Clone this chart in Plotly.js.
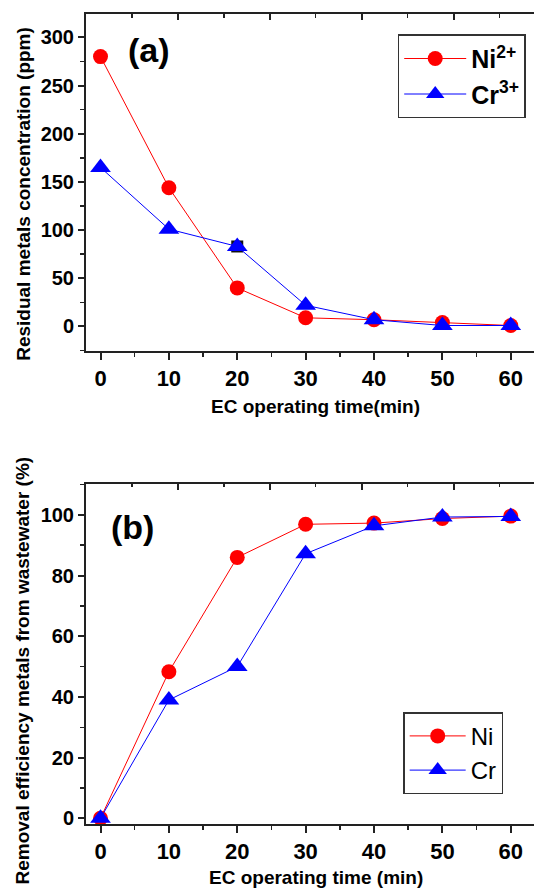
<!DOCTYPE html>
<html>
<head>
<meta charset="utf-8">
<script src="https://cdn.plot.ly/plotly-3.0.1.min.js"></script>
<style>html,body{margin:0;padding:0;background:#fff;}#chart{width:534px;height:890px;}</style>
</head>
<body>
<div id="chart"></div>
<script>
// ---- data ----
const timeMin = [0, 10, 20, 30, 40, 50, 60];
// (a) residual concentration (ppm)
const niConc = [280, 144, 40, 9, 7, 4, 1];
const crConc = [165, 101, 83, 22, 7, 1, 1];
// stray black square marker visible under the Cr point at 20 min
const squareTime = [20];
const squareConc = [83];
// (b) removal efficiency (%)
const niRemoval = [0, 48.3, 86, 96.9, 97.3, 98.8, 99.6];
const crRemoval = [0, 39, 50, 87.2, 96.4, 99.3, 99.5];
const xTickVals = [0, 10, 20, 30, 40, 50, 60];

const FONT = "'Liberation Sans', Arial, Helvetica, sans-serif";
const AX = '#222';
const RED = '#ff0000';
const BLUE = '#0000ff';

const traces = [
  {x: timeMin, y: niConc, xaxis: 'x', yaxis: 'y', mode: 'lines+markers', name: 'Ni<sup>2+</sup>',
   legend: 'legend', legendgroup: 'a1',
   line: {color: RED, width: 1}, marker: {symbol: 'circle', size: 15, color: RED}},
  {x: squareTime, y: squareConc, xaxis: 'x', yaxis: 'y', mode: 'markers', showlegend: false,
   marker: {symbol: 'square', size: 12, color: '#111'}},
  {x: timeMin, y: crConc, xaxis: 'x', yaxis: 'y', mode: 'lines+markers', name: 'Cr<sup>3+</sup>',
   legend: 'legend', legendgroup: 'a2',
   line: {color: BLUE, width: 1}, marker: {symbol: 'triangle-up', size: 18, color: BLUE}},
  {x: timeMin, y: niRemoval, xaxis: 'x2', yaxis: 'y2', mode: 'lines+markers', name: 'Ni',
   legend: 'legend2', legendgroup: 'b1',
   line: {color: RED, width: 1}, marker: {symbol: 'circle', size: 15, color: RED}},
  {x: timeMin, y: crRemoval, xaxis: 'x2', yaxis: 'y2', mode: 'lines+markers', name: 'Cr',
   legend: 'legend2', legendgroup: 'b2',
   line: {color: BLUE, width: 1}, marker: {symbol: 'triangle-up', size: 18, color: BLUE}},
  // empty traces so the top (mirror) axes get drawn
  {x: [], y: [], xaxis: 'x3', yaxis: 'y', showlegend: false, hoverinfo: 'skip'},
  {x: [], y: [], xaxis: 'x4', yaxis: 'y2', showlegend: false, hoverinfo: 'skip'}
];

const yTickFont = {family: FONT, size: 20, color: '#000', weight: 'bold'};
const xTickFont = {family: FONT, size: 22, color: '#000', weight: 'bold'};

function bottomX(anchor, range) {
  return {
    anchor: anchor, range: range, tickvals: xTickVals, ticks: 'outside', ticklen: 7, tickwidth: 2,
    tickcolor: AX, showline: true, linecolor: AX, linewidth: 2, showgrid: false, zeroline: false,
    tickfont: xTickFont, mirror: false,
    minor: {dtick: 5, tick0: 0, ticks: 'outside', ticklen: 4, tickwidth: 1.5, tickcolor: AX, showgrid: false}
  };
}
function topX(over, anchor) {
  return {
    overlaying: over, anchor: anchor, side: 'top', range: [0, 4.875], dtick: 1, tick0: 0,
    ticks: 'inside', ticklen: 6, tickwidth: 2, tickcolor: AX, showline: true, linecolor: AX, linewidth: 2,
    showticklabels: false, showgrid: false, zeroline: false,
    minor: {dtick: 0.5, tick0: 0, ticks: 'inside', ticklen: 3.5, tickwidth: 1.5, tickcolor: AX, showgrid: false}
  };
}
function leftY(domain, range, dtick, minor) {
  return {
    domain: domain, range: range, dtick: dtick, tick0: 0, ticks: 'outside', ticklen: 6, tickwidth: 2,
    tickcolor: AX, showline: true, linecolor: AX, linewidth: 2, showgrid: false, zeroline: false,
    tickfont: yTickFont, mirror: false,
    minor: {dtick: minor, tick0: 0, ticks: 'outside', ticklen: 4, tickwidth: 1.5, tickcolor: AX, showgrid: false}
  };
}

const titleFont = {family: FONT, size: 19, color: '#000', weight: 'bold'};

const layout = {
  width: 534, height: 890,
  margin: {l: 86, r: 0, t: 14, b: 66},
  paper_bgcolor: '#fff', plot_bgcolor: '#fff',
  showlegend: true,
  xaxis: bottomX('y', [-2.12, 63.4]),
  yaxis: leftY([0.584, 1], [-25.4, 324.2], 50, 25),
  xaxis2: bottomX('y2', [-2.12, 63.4]),
  yaxis2: leftY([0, 0.4198], [-1.88, 110.2], 20, 10),
  xaxis3: topX('x', 'y'),
  xaxis4: topX('x2', 'y2'),
  legend: {
    x: 0.6958, y: 0.975, xanchor: 'left', yanchor: 'top', xref: 'paper', yref: 'paper',
    bgcolor: '#fff', bordercolor: '#333', borderwidth: 1.5,
    font: {family: FONT, size: 25, color: '#000', weight: 'bold'},
    itemwidth: 62, tracegroupgap: 2, traceorder: 'normal'
  },
  legend2: {
    x: 0.708, y: 0.1379, xanchor: 'left', yanchor: 'top', xref: 'paper', yref: 'paper',
    bgcolor: '#fff', bordercolor: '#333', borderwidth: 1.5,
    font: {family: FONT, size: 24, color: '#000'},
    itemwidth: 56, tracegroupgap: 0, traceorder: 'normal'
  },
  annotations: [
    {text: '(a)', xref: 'paper', yref: 'paper', x: 0.1406, y: 0.9556, xanchor: 'center', yanchor: 'middle',
     showarrow: false, font: {family: FONT, size: 34, color: '#000', weight: 'bold'}},
    {text: '(b)', xref: 'paper', yref: 'paper', x: 0.1027, y: 0.3667, xanchor: 'center', yanchor: 'middle',
     showarrow: false, font: {family: FONT, size: 34, color: '#000', weight: 'bold'}},
    {text: 'EC operating time(min)', xref: 'paper', yref: 'paper', x: 0.5125, y: 0.5152,
     xanchor: 'center', yanchor: 'middle', showarrow: false, font: titleFont},
    {text: 'EC operating time (min)', xref: 'paper', yref: 'paper', x: 0.5145, y: -0.0655,
     xanchor: 'center', yanchor: 'middle', showarrow: false, font: titleFont},
    {text: 'Residual metals concentration (ppm)', xref: 'paper', yref: 'paper', x: -0.1388, y: 0.7778,
     xanchor: 'center', yanchor: 'middle', textangle: -90, showarrow: false, font: titleFont},
    {text: 'Removal efficiency metals from wastewater (%)', xref: 'paper', yref: 'paper', x: -0.1417, y: 0.1889,
     xanchor: 'center', yanchor: 'middle', textangle: -90, showarrow: false, font: titleFont}
  ]
};

Plotly.newPlot('chart', traces, layout, {staticPlot: true, displayModeBar: false});
</script>
</body>
</html>
